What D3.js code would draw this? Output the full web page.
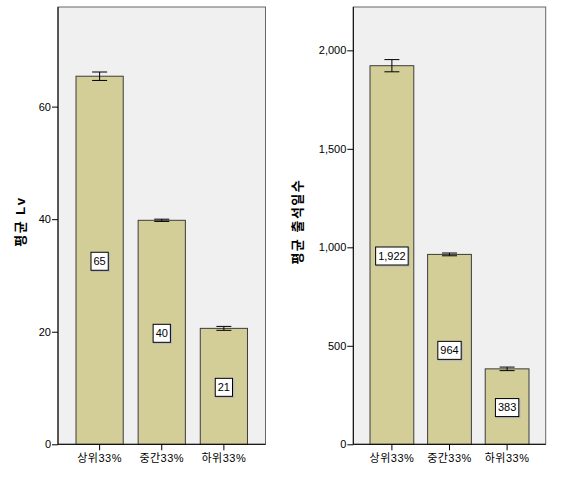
<!DOCTYPE html>
<html>
<head>
<meta charset="utf-8">
<script src="https://cdn.jsdelivr.net/npm/d3@7"></script>
<style>
  body { margin: 0; background: #fff; }
  svg text { font-family: "Liberation Sans", Arial, "Noto Sans CJK KR", sans-serif; }
</style>
</head>
<body>
<div id="chart"></div>
<script>
// Data
const groups = ["상위33%", "중간33%", "하위33%"];

const lvMeans = [65.4, 39.8, 20.6];
const lvErrors = [0.75, 0.2, 0.35];
const lvTicks = [0, 20, 40, 60];

const attendMeans = [1922, 964, 383];
const attendErrors = [31, 7, 9];
const attendTicks = [0, 500, 1000, 1500, 2000];

const svg = d3.select("#chart")
    .append("svg")
    .attr("width", 563)
    .attr("height", 504);

// Draw one SPSS-style bar panel
function drawPanel(opt) {
    const g = svg.append("g")
        .attr("transform", `translate(${opt.left},${opt.top})`);

    const x = d3.scaleBand()
        .domain(groups)
        .range([0, opt.width])
        .paddingInner(0.24)
        .paddingOuter(0.29);

    const y = d3.scaleLinear()
        .domain([0, opt.yMax])
        .range([opt.height, 0]);

    // Plot background and frame
    g.append("rect")
        .attr("width", opt.width)
        .attr("height", opt.height)
        .attr("fill", "#f0f0f0")
        .attr("stroke", "#666")
        .attr("stroke-width", 1);

    const data = groups.map((k, i) => ({ key: k, mean: opt.means[i], err: opt.errors[i] }));

    // Bars
    g.selectAll(".bar")
        .data(data)
        .enter()
        .append("rect")
        .attr("class", "bar")
        .attr("x", d => x(d.key))
        .attr("y", d => y(d.mean))
        .attr("width", x.bandwidth())
        .attr("height", d => opt.height - y(d.mean))
        .attr("fill", "#d3ce97")
        .attr("stroke", "#3c3c3c")
        .attr("stroke-width", 1);

    // Error bars
    const eb = g.selectAll(".err")
        .data(data)
        .enter()
        .append("g")
        .attr("class", "err")
        .attr("transform", d => `translate(${x(d.key) + x.bandwidth() / 2},0)`);

    eb.append("line")
        .attr("y1", d => y(d.mean + d.err))
        .attr("y2", d => y(d.mean - d.err))
        .attr("stroke", "#000");
    eb.append("line")
        .attr("x1", -7.5).attr("x2", 7.5)
        .attr("y1", d => y(d.mean + d.err))
        .attr("y2", d => y(d.mean + d.err))
        .attr("stroke", "#000");
    eb.append("line")
        .attr("x1", -7.5).attr("x2", 7.5)
        .attr("y1", d => y(d.mean - d.err))
        .attr("y2", d => y(d.mean - d.err))
        .attr("stroke", "#000");

    // Value labels in boxes at half height
    const lab = g.selectAll(".lab")
        .data(data)
        .enter()
        .append("g")
        .attr("class", "lab")
        .attr("transform", d => `translate(${x(d.key) + x.bandwidth() / 2},${y(d.mean / 2) + 1})`);

    lab.append("text")
        .attr("text-anchor", "middle")
        .attr("dy", "0.35em")
        .attr("font-size", 11)
        .attr("fill", "#000")
        .text(d => d3.format(",")(Math.round(d.mean)));

    lab.each(function () {
        const t = d3.select(this).select("text");
        const bb = t.node().getBBox();
        d3.select(this).insert("rect", "text")
            .attr("x", bb.x - 2.5 + 1)
            .attr("y", -9 + 1)
            .attr("width", bb.width + 5)
            .attr("height", 18)
            .attr("fill", "none")
            .attr("stroke", "#b8b8b8")
            .attr("stroke-width", 1.5);
        d3.select(this).insert("rect", "text")
            .attr("x", bb.x - 2.5)
            .attr("y", -9)
            .attr("width", bb.width + 5)
            .attr("height", 18)
            .attr("fill", "#fff")
            .attr("stroke", "#000")
            .attr("stroke-width", 1);
    });

    // Axes
    const yAxis = g.append("g")
        .call(d3.axisLeft(y).tickValues(opt.ticks).tickSize(6).tickPadding(1).tickFormat(d3.format(",")));
    yAxis.select(".domain").attr("stroke", "#000").attr("d", `M0,0V${opt.height}`);
    yAxis.selectAll("text").attr("font-size", 11).attr("fill", "#000")
        .attr("font-family", "'Liberation Sans', Arial, sans-serif");

    const xAxis = g.append("g")
        .attr("transform", `translate(0,${opt.height})`)
        .call(d3.axisBottom(x).tickSize(6).tickPadding(4));
    xAxis.select(".domain").attr("stroke", "#000").attr("d", `M0,0H${opt.width}`);
    xAxis.selectAll("text").attr("font-size", 11).attr("fill", "#000")
        .attr("letter-spacing", 0.5);

    // Y title
    svg.append("text")
        .attr("transform", `translate(${opt.titleX},${opt.top + opt.height / 2 - 4}) rotate(-90)`)
        .attr("text-anchor", "middle")
        .attr("dy", "0.35em")
        .attr("font-size", 13)
        .attr("font-weight", "bold")
        .attr("letter-spacing", 1.5)
        .attr("fill", "#000")
        .text(opt.title);
}

drawPanel({
    left: 58, top: 7, width: 207.5, height: 437.3,
    yMax: 77.7, ticks: lvTicks,
    means: lvMeans, errors: lvErrors,
    title: "평균 Lv", titleX: 20
});

drawPanel({
    left: 353.3, top: 7, width: 192.4, height: 437.3,
    yMax: 2220, ticks: attendTicks,
    means: attendMeans, errors: attendErrors,
    title: "평균 출석일수", titleX: 297
});
</script>
</body>
</html>
